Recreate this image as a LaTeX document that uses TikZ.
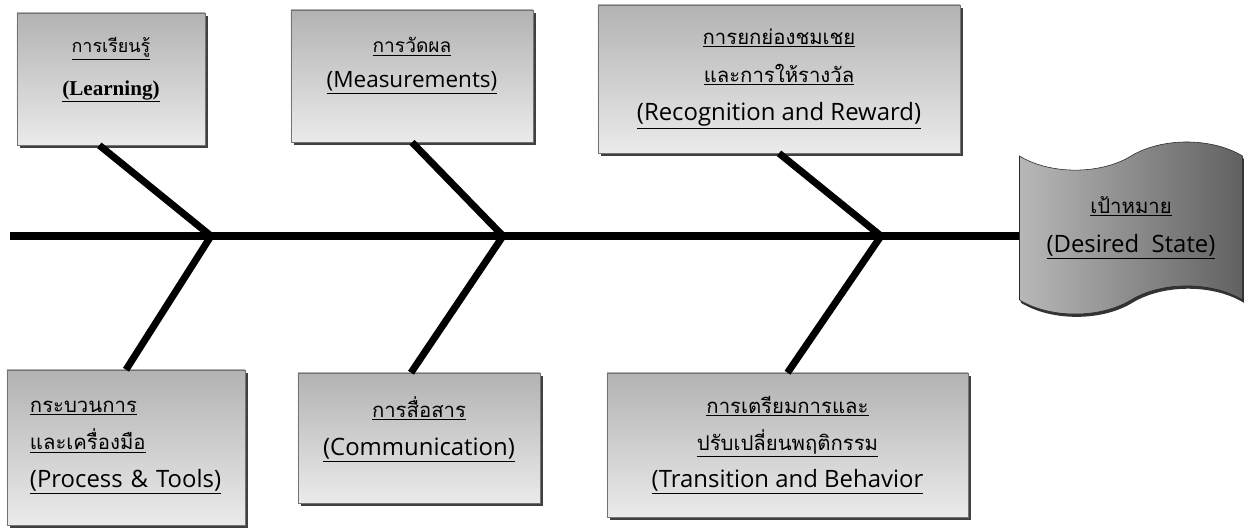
\documentclass[tikz,border=0pt]{standalone}
\usepackage{fontspec}
\usepackage{tikz}
\usetikzlibrary{shapes, shapes.symbols, shadows}
\newfontfamily\thaifont[Script=Thai, Scale=0.85]{Loma}
\newfontfamily\latfont{Open Sans}
\newfontfamily\serfont{Liberation Serif}
\newcommand{\thline}[1]{\underline{\thaifont #1}}
\newcommand{\enline}[1]{\underline{\latfont #1}}
\tikzstyle{cbox} = [rectangle, draw=black!55, top color=black!30, bottom color=black!8, drop shadow={shadow xshift=2pt, shadow yshift=-2pt, fill=black!75, opacity=1}, text centered, align=center, inner sep=0pt]
\tikzstyle{goal} = [tape, draw=black!85, tape bend top=in and out, tape bend bottom=in and out, tape bend height=20pt, left color=black!28, right color=black!62, drop shadow={shadow xshift=1pt, shadow yshift=-2pt, fill=black!80, opacity=1}, align=center, inner sep=0pt]
\tikzstyle{bone} = [draw, line width=5pt, line join=miter]

\begin{document}
\begin{tikzpicture}[x=0.025cm, y=-0.025cm]
    \useasboundingbox (0,0) rectangle (1246,527);
    \node[cbox, minimum width=4.7cm, minimum height=3.3cm, font=\fontsize{15}{30}\selectfont](learn) at (111,79)
        {\thline{การเรียนรู้}\\ {\serfont\bfseries\underline{(Learning)}}\\[-12pt]};
    \node[cbox, minimum width=6.05cm, minimum height=3.3cm, font=\fontsize{16}{25}\selectfont](measure) at (412,76)
        {\thline{การวัดผล}\\ \enline{(Measurements)}\\[-6pt]};
    \node[cbox, minimum width=9.05cm, minimum height=3.7cm, font=\fontsize{17}{27}\selectfont](reward) at (779,79)
        {\thline{การยกย่องชมเชย}\\ \thline{และการให้รางวัล}\\ \enline{(Recognition and Reward)}};
    \node[cbox, minimum width=5.95cm, minimum height=3.875cm, text width=4.8cm, align=left, font=\fontsize{17}{26.5}\selectfont](process) at (126,447.5)
        {\thline{กระบวนการ}\\ \thline{และเครื่องมือ}\\ \enline{(Process \& Tools)}\\[-19.5pt]};
    \node[cbox, minimum width=6.05cm, minimum height=3.25cm, font=\fontsize{17}{27}\selectfont](comm) at (419,438)
        {\thline{การสื่อสาร}\\ \enline{(Communication)}\\[-10pt]};
    \node[cbox, minimum width=9.025cm, minimum height=3.6cm, font=\fontsize{17}{26.5}\selectfont](change) at (787.5,445)
        {\thline{การเตรียมการและ}\\ \thline{ปรับเปลี่ยนพฤติกรรม}\\ \enline{(Transition and Behavior}};
    \node[goal, minimum width=5.575cm, minimum height=4.3cm, font=\fontsize{17}{28}\selectfont](target) at (1131,228)
        {\thline{เป้าหมาย}\\ \enline{(Desired~~State)}};

    \coordinate (tail) at (10,236);
    \coordinate (j1) at (211,236);
    \coordinate (j2) at (503,236);
    \coordinate (j3) at (881,236);

    \path[bone] (tail) -- (tail -| target.west);
    \path[bone] (learn.-100) -- (j1) -- (process.north);
    \path[bone] (measure.south) -- (j2) -- (comm.97);
    \path[bone] (reward.south) -- (j3) -- (change.north);
\end{tikzpicture}
\end{document}
